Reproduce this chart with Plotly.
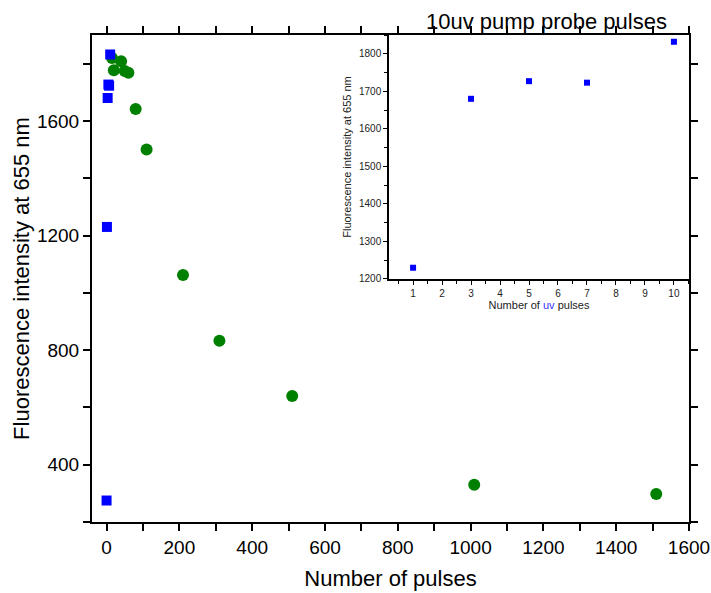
import plotly.graph_objects as go

# Main plot data
uv_pulses_main = [0, 1, 3, 5, 7, 10]
uv_intensity_main = [275, 1230, 1680, 1727, 1723, 1832]
pulses_green = [15, 20, 40, 50, 60, 80, 110, 210, 310, 510, 1010, 1510]
intensity_green = [1820, 1777, 1808, 1774, 1768, 1642, 1500, 1062, 833, 640, 330, 298]

# Inset data
inset_uv = [1, 3, 5, 7, 10]
inset_intensity = [1230, 1680, 1727, 1723, 1832]

FONT = "Liberation Sans, Arial, sans-serif"

fig = go.Figure()

fig.add_trace(go.Scatter(x=pulses_green, y=intensity_green, mode="markers",
                         marker=dict(symbol="circle", size=12, color="#008000"),
                         showlegend=False, xaxis="x", yaxis="y"))
fig.add_trace(go.Scatter(x=uv_pulses_main, y=uv_intensity_main, mode="markers",
                         marker=dict(symbol="square", size=10, color="#0000FF"),
                         showlegend=False, xaxis="x", yaxis="y"))
fig.add_trace(go.Scatter(x=inset_uv, y=inset_intensity, mode="markers",
                         marker=dict(symbol="square", size=6, color="#0000FF"),
                         showlegend=False, xaxis="x2", yaxis="y2"))

fig.update_layout(
    width=711, height=593,
    margin=dict(l=92, r=22, t=35, b=71, autoexpand=False),
    paper_bgcolor="white", plot_bgcolor="white",
    font=dict(family=FONT, color="black"),
    xaxis=dict(
        domain=[0, 1], range=[-40, 1600], tick0=0, dtick=200,
        showgrid=False, zeroline=False, showline=True, linecolor="black", linewidth=2,
        mirror="ticks", ticks="outside", ticklen=7, tickwidth=1.5, tickcolor="black",
        minor=dict(dtick=100, ticks="outside", ticklen=7, tickwidth=1.5, tickcolor="black", showgrid=False),
        tickfont=dict(size=19),
        title=dict(text="Number of pulses", font=dict(size=22), standoff=14),
    ),
    yaxis=dict(
        domain=[0, 1], range=[200, 1900], tick0=0, dtick=400,
        showgrid=False, zeroline=False, showline=True, linecolor="black", linewidth=2,
        mirror="ticks", ticks="outside", ticklen=7, tickwidth=1.5, tickcolor="black",
        minor=dict(dtick=200, ticks="outside", ticklen=7, tickwidth=1.5, tickcolor="black", showgrid=False),
        tickfont=dict(size=19),
        title=dict(text="Fluorescence intensity at 655 nm", font=dict(size=22), standoff=1),
    ),
    xaxis2=dict(
        domain=[0.4975, 1], anchor="y2", range=[0.17, 10.52], tick0=1, dtick=1,
        showgrid=False, zeroline=False, showline=True, linecolor="black", linewidth=1.5,
        ticks="outside", ticklen=4, tickwidth=1, tickcolor="black",
        minor=dict(dtick=0.5, ticks="outside", ticklen=3, tickwidth=1, tickcolor="black", showgrid=False),
        tickfont=dict(size=10, color="#222222"),
        title=dict(text="Number of <span style='color:#3333ff'>uv</span> pulses",
                   font=dict(size=11, color="#222222"), standoff=4),
    ),
    yaxis2=dict(
        domain=[0.499, 1], anchor="x2", range=[1200, 1850], tick0=1200, dtick=100,
        showgrid=False, zeroline=False, showline=True, linecolor="black", linewidth=1.5,
        ticks="outside", ticklen=4, tickwidth=1, tickcolor="black",
        minor=dict(dtick=50, ticks="outside", ticklen=3, tickwidth=1, tickcolor="black", showgrid=False),
        tickfont=dict(size=10, color="#222222"),
        title=dict(text="Fluorescence intensity at 655 nm", font=dict(size=11, color="#222222"), standoff=5),
    ),
    annotations=[dict(
        text="10uv pump probe pulses", xref="paper", yref="paper",
        x=0.7605, y=1.0267, xanchor="center", yanchor="middle", showarrow=False,
        font=dict(size=22, color="black"),
    )],
)

fig.write_html("out.html")
